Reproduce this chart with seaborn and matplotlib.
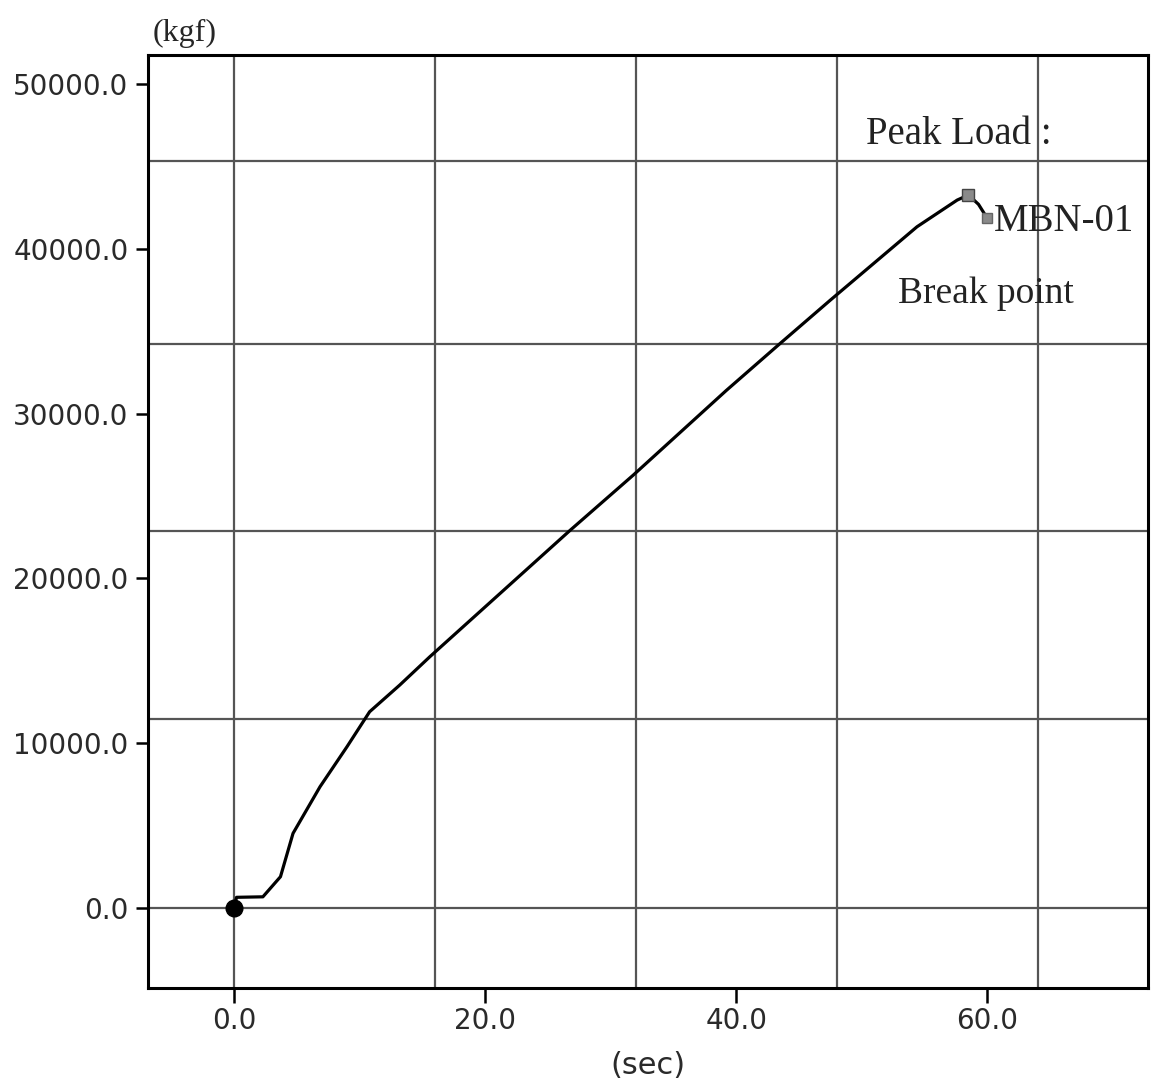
import numpy as np
import pandas as pd
import matplotlib
matplotlib.use("Agg")
import matplotlib.pyplot as plt
import matplotlib.font_manager as fm
import seaborn as sns

# load curve
time_s = [0.0, 0.2, 2.3, 3.7, 4.7, 6.85, 9.0, 10.8, 13.2, 15.6, 26.8,
          31.8, 39.2, 43.5, 47.5, 54.4, 57.6, 58.5, 59.3, 60.0]
load_kgf = [0, 650, 680, 1900, 4530, 7360, 9790, 11910, 13530, 15250, 22940,
            26270, 31400, 34260, 36890, 41340, 42960, 43270, 42700, 41850]

x_ticks = [0, 20, 40, 60]
y_ticks = [0, 10000, 20000, 30000, 40000, 50000]
grid_x = [0, 16, 32, 48, 64]
grid_y = [0, 11500, 22900, 34200, 45350]

peak = (58.5, 43270)
brk = (60.0, 41850)

df = pd.DataFrame({"sec": time_s, "kgf": load_kgf})

# narrow sans for the numbers if one is there
names = {f.name for f in fm.fontManager.ttflist}
if "Liberation Sans Narrow" in names:
    num_font, num_size = "Liberation Sans Narrow", 26
elif "DejaVu Sans Condensed" in names:
    num_font, num_size = "DejaVu Sans Condensed", 22
else:
    num_font, num_size = "DejaVu Sans", 20

sns.set_style("ticks")
plt.rcParams["font.family"] = ["DejaVu Sans"]

fig = plt.figure(figsize=(11.51, 10.88), dpi=100)
ax = fig.add_axes([0.1286, 0.0919, 0.8688, 0.8575])

for gx in grid_x:
    ax.axvline(gx, color="#555555", lw=1.6, zorder=1)
for gy in grid_y:
    ax.axhline(gy, color="#555555", lw=1.6, zorder=1)

sns.lineplot(data=df, x="sec", y="kgf", ax=ax, color="black", lw=2.3,
             sort=False, zorder=3)

# markers
ax.plot(0, 0, marker="o", ms=12, color="black", zorder=5)
ax.plot(*peak, marker="s", ms=8, color="#8a8a8a", mec="#444444", mew=1, zorder=5)
ax.plot(*brk, marker="s", ms=7, color="#8a8a8a", mec="#666666", mew=1, zorder=5)

ax.set_xlim(-6.85, 72.8)
ax.set_ylim(-4854, 51760)

ax.set_xticks(x_ticks)
ax.set_yticks(y_ticks)
ax.set_xticklabels([f"{v:.1f}" for v in x_ticks])
ax.set_yticklabels([f"{v:.1f}" for v in y_ticks])
ax.grid(False)
ax.tick_params(axis="x", direction="out", length=11, width=1.8, pad=3,
               labelsize=num_size, colors="black")
ax.tick_params(axis="y", direction="out", length=9, width=1.8, pad=5,
               labelsize=num_size, colors="black")
for lab in ax.get_xticklabels() + ax.get_yticklabels():
    lab.set_family(num_font)
    lab.set_color("#2a2a2a")

for s in ax.spines.values():
    s.set_visible(True)
    s.set_color("black")
    s.set_linewidth(2.2)

ax.set_xlabel("(sec)", fontsize=num_size + 2, family=num_font, color="#2a2a2a",
              fontweight="medium", labelpad=11)
ax.set_ylabel("")

fig.text(153 / 1151, 1 - 33 / 1088, "(kgf)", family="Liberation Serif",
         fontsize=23, va="center", ha="left")
ax.text(0.718, 0.915, "Peak Load :", transform=ax.transAxes,
        family="Liberation Serif", fontsize=28, va="center", ha="left", color="#222222")
ax.text(brk[0] + 0.5, brk[1] - 200, "MBN-01", family="Liberation Serif",
        fontsize=28, va="center", ha="left", color="#222222")
ax.text(0.75, 0.744, "Break point", transform=ax.transAxes,
        family="Liberation Serif", fontsize=27, va="center", ha="left", color="#222222")

plt.savefig("out.png", dpi=100)
